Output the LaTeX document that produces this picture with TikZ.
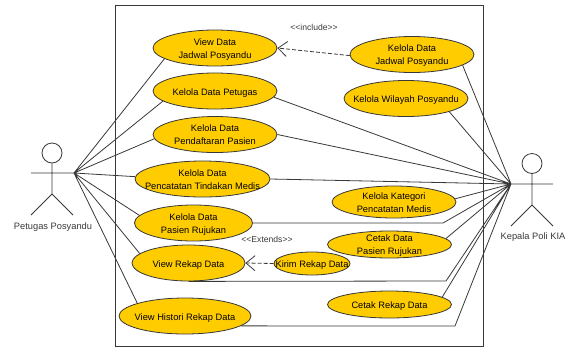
\documentclass[tikz,border=0pt]{standalone}
\usepackage{fontspec}
\setmainfont{Liberation Sans}
\usetikzlibrary{shapes.geometric,arrows.meta}
\definecolor{casefill}{HTML}{FFCC00}
\definecolor{linegray}{HTML}{383838}

\begin{document}
\begin{tikzpicture} [x=1pt, y=-1pt]
\tikzstyle{usecase}=[draw=linegray, fill=casefill, shape=ellipse, line width=0.8pt, inner sep=-12pt, align=center, font=\fontsize{9.3}{13}\selectfont, text height=11pt, text depth=3pt, minimum width=124pt, minimum height=36pt];
\tikzstyle{usecasetwo}=[usecase, text height=23.5pt];
\tikzstyle{link}=[draw=linegray, line width=0.8pt];
\tikzstyle{depends}=[link, dash pattern=on 4pt off 2pt, -{Straight Barb[length=9pt,width=15pt]}];
\tikzstyle{caption}=[inner sep=0pt, font=\fontsize{9.3}{13}\selectfont, text=linegray];
\tikzstyle{stereo}=[inner sep=0pt, font=\fontsize{8.6}{10}\selectfont, text=linegray];
\useasboundingbox (0,0) rectangle (573,349);
\node [draw=linegray, line width=0.8pt, minimum width=368pt, minimum height=341.5pt, inner sep=0pt] (sys) at (299.5,176) {};

\node [usecasetwo] (viewJadwal) at (215,48) {View Data\\Jadwal Posyandu};
\node [usecase] (petugas) at (215,91) {Kelola Data Petugas};
\node [usecasetwo] (pendaftaran) at (215,134.5) {Kelola Data\\Pendaftaran Pasien};
\node [usecasetwo, minimum width=135pt] (pencatatan) at (202.5,179) {Kelola Data\\Pencatatan Tindakan Medis};
\node [usecasetwo, minimum width=118pt] (rujukan) at (193.5,223) {Kelola Data\\Pasien Rujukan};
\node [usecase, minimum width=113pt] (viewRekap) at (188.5,263) {View Rekap Data};
\node [usecase, minimum width=132pt] (histori) at (185,316) {View Histori Rekap Data};
\node [usecasetwo] (kelolaJadwal) at (412,54.5) {Kelola Data\\Jadwal Posyandu};
\node [usecase] (wilayah) at (406,98.5) {Kelola Wilayah Posyandu};
\node [usecasetwo, minimum height=32pt] (kategori) at (394,202) {Kelola Kategori\\Pencatatan Medis};
\node [usecasetwo, minimum height=27pt] (cetakData) at (389.5,244.5) {Cetak Data\\Pasien Rujukan};
\node [usecase, minimum width=76pt, minimum height=23pt] (kirim) at (312,263.5) {Kirim Rekap Data};
\node [usecase, minimum height=27pt] (cetakRekap) at (389.5,304.5) {Cetak Rekap Data};

\node [stereo] (include) at (314,27) {<{}<include>{}>};
\node [stereo] (extends) at (267,239) {<{}<Extends>{}>};

% actors
\node [draw=linegray, line width=0.8pt, shape=circle, minimum size=20pt, inner sep=0pt] (headPetugas) at (52,153) {};
\coordinate (handPetugas) at (74,173);
\coordinate (hipPetugas) at (52,194);
\draw [link] (headPetugas) -- (hipPetugas)
(31,173) -- (handPetugas)
(hipPetugas) -- ++(-21,21)
(hipPetugas) -- ++(21,21);
\node [caption] (namePetugas) at (53,227) {Petugas Posyandu};

\node [draw=linegray, line width=0.8pt, shape=circle, minimum size=20pt, inner sep=0pt] (headKepala) at (532,163.5) {};
\coordinate (handKepala) at (511,184);
\coordinate (hipKepala) at (532,205);
\draw [link] (headKepala) -- (hipKepala)
(handKepala) -- (553,184)
(hipKepala) -- ++(-21,21)
(hipKepala) -- ++(21,21);
\node [caption] (nameKepala) at (533,237) {Kepala Poli KIA};

\draw [link] (handPetugas) -- (viewJadwal.192) % left actor
(handPetugas) -- (petugas.191)
(handPetugas) -- (pendaftaran.184)
(handPetugas) -- (pencatatan.178)
(handPetugas) -- (rujukan.172)
(handPetugas) -- (viewRekap.169)
(handPetugas) -- (histori.165);

\coordinate (bendRujukan) at (443,223);
\coordinate (bendRekap) at (446,281);
\coordinate (bendHistori) at (455,326);
\draw [link] (handKepala) -- (kelolaJadwal.-12) % right actor
(handKepala) -- (wilayah.-17)
(handKepala) -- (petugas.-6)
(handKepala) -- (pendaftaran.east)
(handKepala) -- (pencatatan.east)
(handKepala) -- (kategori.3)
(handKepala) -- (cetakData.6)
(handKepala) -- (cetakRekap.8)
(handKepala) -- (bendRujukan) -- (rujukan.east)
(handKepala) -- (bendRekap) -- (viewRekap.south)
(handKepala) -- (bendHistori) -- (histori.-10);

\draw [depends] (kelolaJadwal.181) -- (viewJadwal.east);
\draw [depends] (kirim.west) -- (viewRekap.east);
\end{tikzpicture}
\end{document}
